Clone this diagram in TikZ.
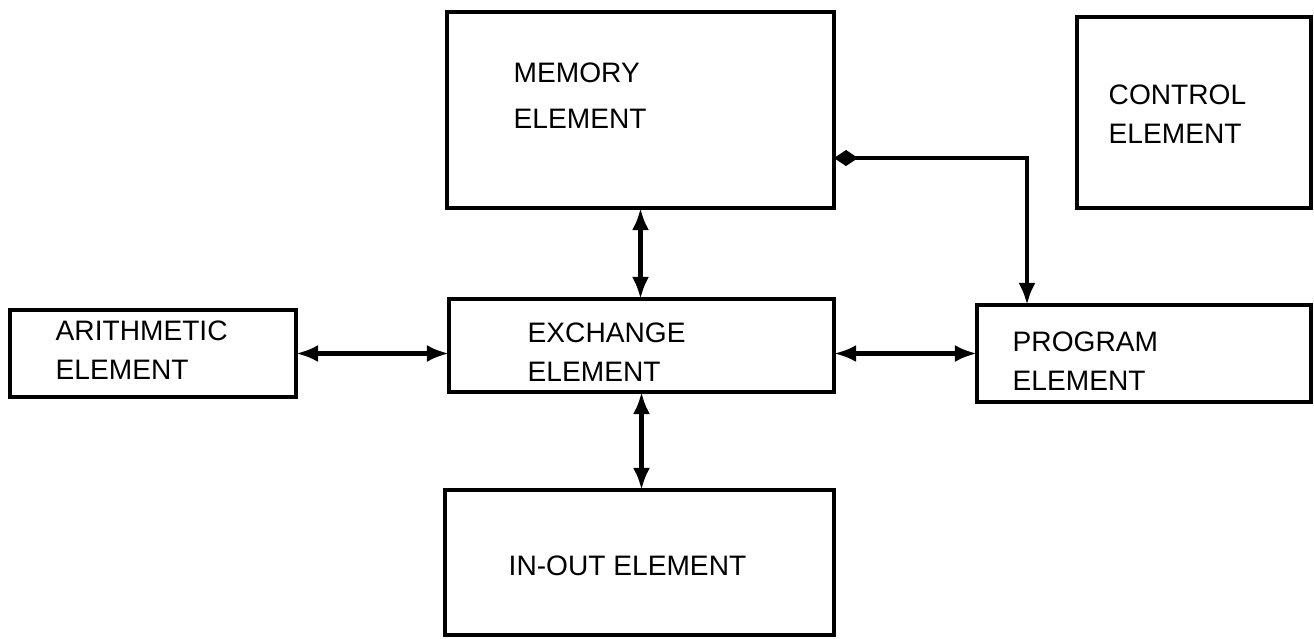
\documentclass[tikz,border=0pt]{standalone}
\usepackage{fontspec}
\setmainfont{Liberation Sans}
\usetikzlibrary{positioning,arrows.meta}

\begin{document}
\begin{tikzpicture}[x=0.01cm, y=-0.01cm, >={Latex[length=2.2mm,width=1.7mm]},
  blk/.style={draw, line width=1.2pt, inner sep=0pt, outer sep=0pt},
  lbl/.style={anchor=north west, align=left, inner sep=0pt, font=\fontsize{8}{11}\selectfont},
  link/.style={line width=1.2pt, <->}]
  \useasboundingbox (0,0) rectangle (1314,639);
  % blocks
  \node[blk, minimum width=3.87cm, minimum height=1.96cm] (mem) at (640.5,110)   {};
  \node[blk, minimum width=2.34cm, minimum height=1.91cm] (ctl) at (1194,112.5)  {};
  \node[blk, minimum width=2.86cm, minimum height=0.87cm] (ari) at (153,353.5)   {};
  \node[blk, minimum width=3.85cm, minimum height=0.93cm] (xch) at (641.5,345.5) {};
  \node[blk, minimum width=3.34cm, minimum height=0.97cm] (prg) at (1144,353.5)  {};
  \node[blk, minimum width=3.89cm, minimum height=1.45cm] (io)  at (639.5,562.5) {};
  % labels
  \node[lbl] (mem-txt) at (513,62)  {MEMORY\\[2pt]ELEMENT};
  \node[lbl] (ctl-txt) at (1108,84) {CONTROL\\ELEMENT};
  \node[lbl] (ari-txt) at (55,320)  {ARITHMETIC\\ELEMENT};
  \node[lbl] (xch-txt) at (527,322) {EXCHANGE\\ELEMENT};
  \node[lbl] (prg-txt) at (1012,331){PROGRAM\\ELEMENT};
  \node[lbl] (io-txt)  at (508,555) {IN-OUT ELEMENT};
  % connectors
  \draw[link] (mem.south) -- (mem.south |- xch.north);
  \draw[link] (ari.east) -- (ari.east -| xch.west);
  \draw[link] (prg.west -| xch.east) -- (prg.west);
  \draw[link] (xch.south) -- (xch.south |- io.north);
  \coordinate (tap)  at (834,158);
  \coordinate (drop) at (1027,305);
  \draw[line width=1.2pt, {Diamond[length=2.4mm,width=1.6mm]}->] (tap) -| (drop);
\end{tikzpicture}
\end{document}
